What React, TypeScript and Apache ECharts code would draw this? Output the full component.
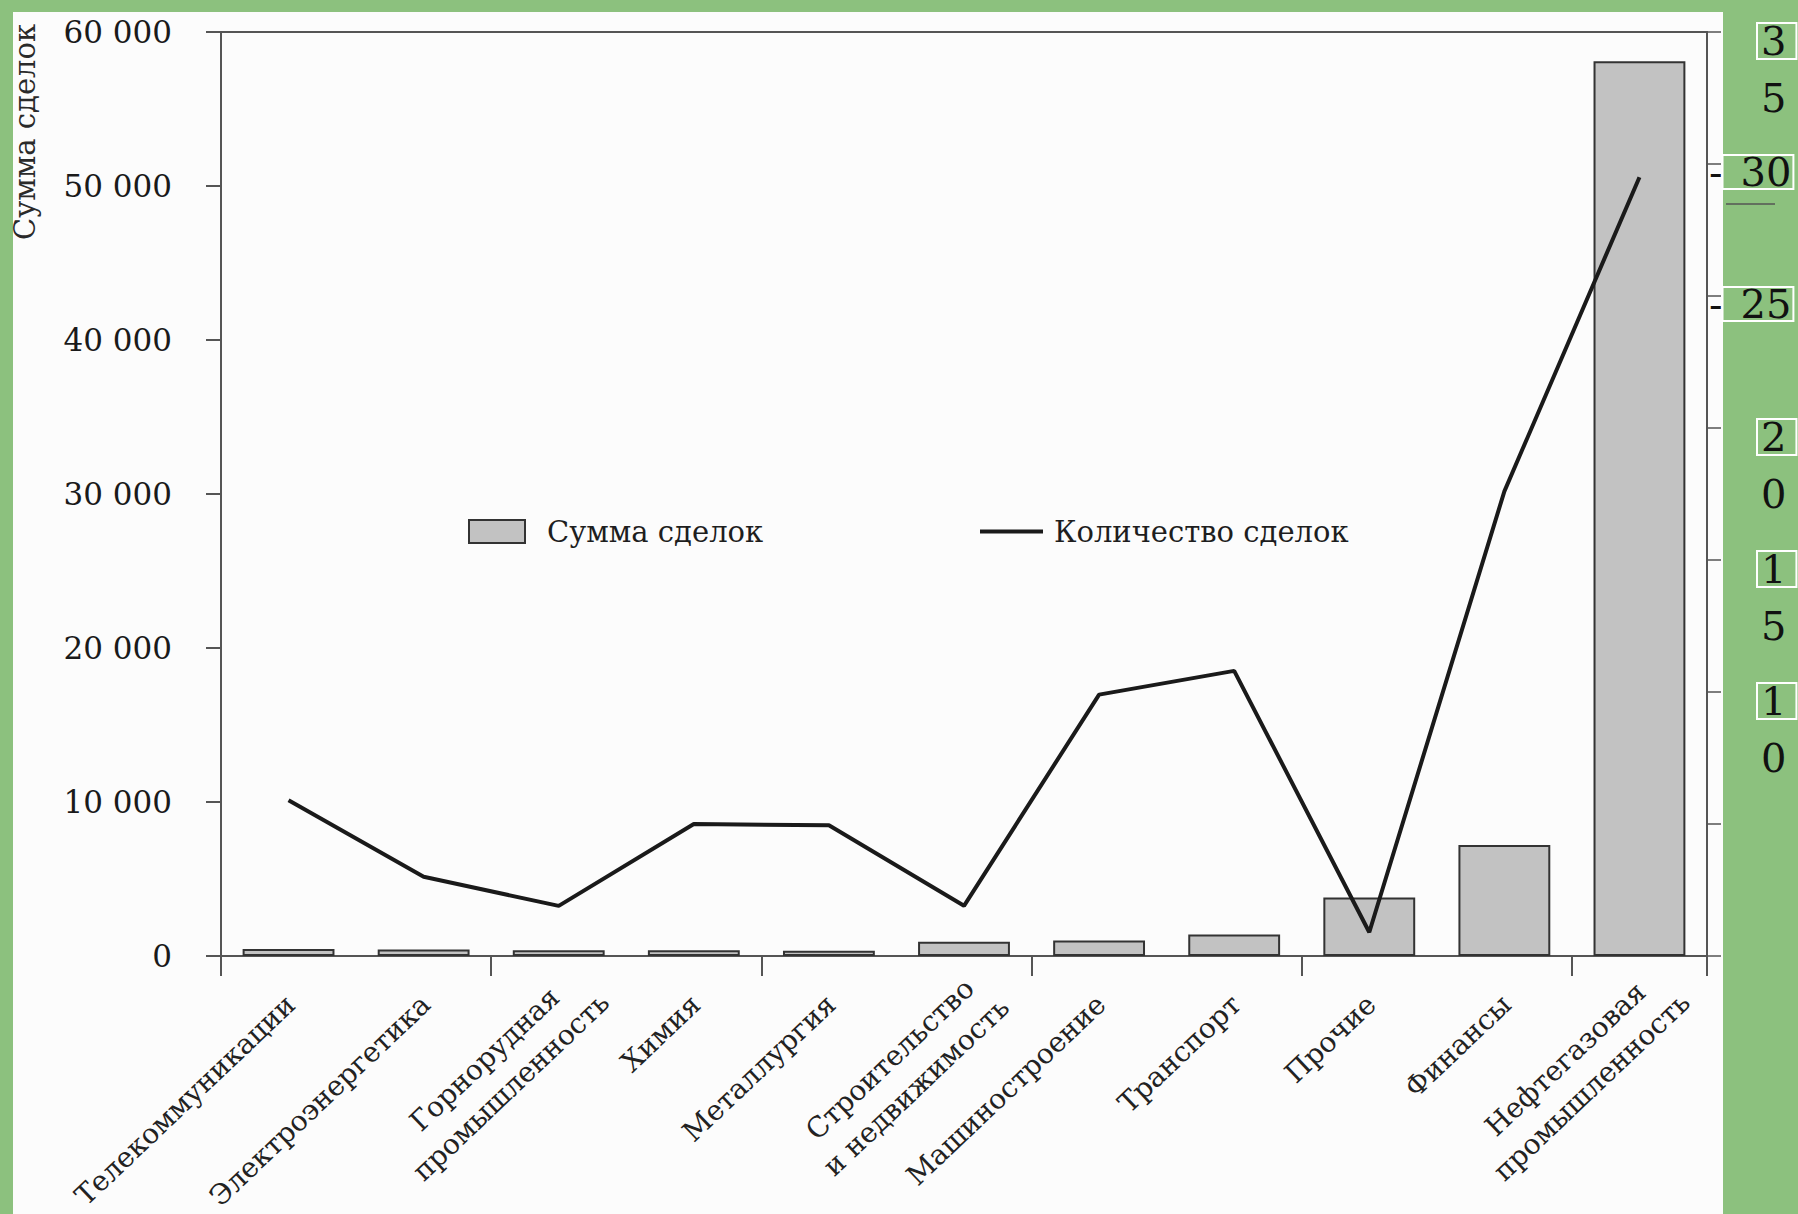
import React, { useEffect, useRef } from "react";
import * as echarts from "echarts";

// ---- data ----
const categories = [
  "Телекоммуникации",
  "Электроэнергетика",
  "Горнорудная\nпромышленность",
  "Химия",
  "Металлургия",
  "Строительство\nи недвижимость",
  "Машиностроение",
  "Транспорт",
  "Прочие",
  "Финансы",
  "Нефтегазовая\nпромышленность",
];
const dealSum = [450, 430, 380, 380, 340, 930, 1000, 1400, 3800, 7200, 58100];
const dealCount = [5.9, 3.0, 1.9, 5.0, 4.95, 1.9, 9.9, 10.8, 0.9, 17.6, 29.5];

const sumTicks = [0, 10000, 20000, 30000, 40000, 50000, 60000];
const sumTickLabels = ["0", "10 000", "20 000", "30 000", "40 000", "50 000", "60 000"];
const countTicks = [0, 5, 10, 15, 20, 25, 30, 35];
const countTickLabels = ["", "", "1\n0", "1\n5", "2\n0", "- 25", "- 30", "3\n5"];

const seriesNames = ["Сумма сделок", "Количество сделок"];
const sumAxisName = "Сумма сделок";

const FONT = "'DejaVu Serif', 'Liberation Serif', serif";

export default function App() {
  const ref = useRef<HTMLDivElement>(null);

  useEffect(() => {
    if (!ref.current) return;
    const chart = echarts.init(ref.current, null, { renderer: "svg" });

    const option: any = {
      animation: false,
      backgroundColor: "transparent",
      grid: {
        left: 221,
        right: 91,
        top: 32,
        bottom: 258,
        containLabel: false,
        outerBoundsMode: "none",
        show: true,
        borderColor: "#555",
        borderWidth: 2,
        backgroundColor: "transparent",
      },
      legend: [
        {
          left: 463,
          top: 512,
          itemWidth: 56,
          itemHeight: 23,
          selectedMode: false,
          data: [
            {
              name: seriesNames[0],
              icon: "rect",
              itemStyle: { color: "#c2c2c2", borderColor: "#333", borderWidth: 2 },
            },
          ],
          textStyle: { fontFamily: FONT, fontSize: 29, color: "#1e1e1e", padding: [0, 0, 0, 17] },
        },
        {
          left: 975,
          top: 512,
          itemWidth: 63,
          itemHeight: 4,
          selectedMode: false,
          data: [
            {
              name: seriesNames[1],
              icon: "rect",
              itemStyle: { color: "#1a1a1a", borderWidth: 0 },
            },
          ],
          textStyle: { fontFamily: FONT, fontSize: 29, color: "#1e1e1e", padding: [0, 0, 0, 6] },
        },
      ],
      xAxis: {
        type: "category",
        data: categories,
        boundaryGap: true,
        axisLine: { lineStyle: { color: "#555", width: 2 } },
        axisTick: { show: true, length: 20, lineStyle: { color: "#555", width: 2 } },
        axisLabel: { show: false },
        splitLine: { show: false },
      },
      yAxis: [
        {
          type: "value",
          position: "left",
          min: sumTicks[0],
          max: sumTicks[sumTicks.length - 1],
          interval: sumTicks[1] - sumTicks[0],
          axisLine: { show: true, lineStyle: { color: "#555", width: 2 } },
          axisTick: { show: true, length: 15, lineStyle: { color: "#555", width: 2 } },
          splitLine: { show: false },
          axisLabel: {
            margin: 49,
            fontFamily: FONT,
            fontSize: 31,
            color: "#1a1a1a",
            formatter: (v: number) => {
              const i = sumTicks.indexOf(v);
              return i >= 0 ? sumTickLabels[i] : "";
            },
          },
        },
        {
          type: "value",
          position: "right",
          min: countTicks[0],
          max: countTicks[countTicks.length - 1],
          interval: countTicks[1] - countTicks[0],
          axisLine: { show: true, lineStyle: { color: "#555", width: 2 } },
          axisTick: { show: true, length: 14, lineStyle: { color: "#555", width: 1.5 } },
          splitLine: { show: false },
          axisLabel: {
            margin: 2,
            align: "left",
            fontFamily: FONT,
            fontSize: 40,
            color: "#111",
            formatter: (v: number) => {
              const i = countTicks.indexOf(v);
              const lab = i >= 0 ? countTickLabels[i] : "";
              if (!lab) return "";
              if (lab.indexOf("\n") >= 0) {
                const [a, b] = lab.split("\n");
                return `{g| }\n{s| }{b|${a}}\n{s| }{n|${b}}`;
              }
              const t = lab.replace("- ", "");
              return `{h| }\n{d|-}{c|${t}}`;
            },
            rich: {
              g: { fontSize: 8, lineHeight: 75 },
              h: { fontSize: 8, lineHeight: 16 },
              s: { fontSize: 8, width: 48, lineHeight: 57 },
              b: {
                fontFamily: FONT,
                fontSize: 40,
                color: "#111",
                lineHeight: 57,
                height: 36,
                padding: [0, 10, 0, 4],
                borderColor: "#ffffff",
                borderWidth: 2,
              },
              n: {
                fontFamily: FONT,
                fontSize: 40,
                color: "#111",
                lineHeight: 57,
                padding: [0, 10, 0, 4],
              },
              d: { fontFamily: FONT, fontSize: 40, color: "#111", lineHeight: 44 },
              c: {
                fontFamily: FONT,
                fontSize: 40,
                color: "#111",
                lineHeight: 44,
                height: 34,
                padding: [0, 2, 0, 18],
                borderColor: "#ffffff",
                borderWidth: 2,
              },
            },
          },
        },
      ],
      series: [
        {
          name: seriesNames[0],
          type: "bar",
          yAxisIndex: 0,
          data: dealSum,
          barWidth: "68%",
          itemStyle: { color: "#c2c2c2", borderColor: "#333", borderWidth: 2 },
        },
        {
          name: seriesNames[1],
          type: "line",
          yAxisIndex: 1,
          data: dealCount,
          symbol: "none",
          itemStyle: { color: "#1a1a1a" },
          lineStyle: { color: "#1a1a1a", width: 4 },
          z: 5,
        },
      ],
    };

    chart.setOption(option);

    // category labels, positioned from the axis scale
    const y0 = chart.convertToPixel({ yAxisIndex: 0 }, 0) as number;
    const rot = (43.5 * Math.PI) / 180;
    const labels: any[] = categories.map((c, i) => {
      const px = chart.convertToPixel({ xAxisIndex: 0 }, i) as number;
      const multi = c.indexOf("\n") >= 0;
      return {
        type: "text",
        x: multi ? px - 61 : px + 2,
        y: multi ? y0 + 117 : y0 + 44,
        rotation: rot,
        silent: true,
        style: {
          text: c,
          fontFamily: FONT,
          fontSize: 28,
          lineHeight: 38,
          fill: "#222",
          align: multi ? "center" : "right",
          verticalAlign: "middle",
        },
      };
    });
    const y30 = chart.convertToPixel({ yAxisIndex: 1 }, 30) as number;
    chart.setOption({
      graphic: [
        ...labels,
        {
          type: "text",
          x: 25,
          y: 132,
          rotation: Math.PI / 2,
          silent: true,
          style: {
            text: sumAxisName,
            fontFamily: FONT,
            fontSize: 29,
            fill: "#2a2a2a",
            align: "center",
            verticalAlign: "middle",
          },
        },
        {
          type: "line",
          silent: true,
          shape: { x1: 1726, y1: y30 + 40, x2: 1775, y2: y30 + 40 },
          style: { stroke: "#555", lineWidth: 1.5 },
        },
      ],
    });

    return () => chart.dispose();
  }, []);

  return (
    <div
      style={{
        position: "fixed",
        left: 0,
        top: 0,
        width: 1798,
        height: 1214,
        background: "#8cc17e",
        overflow: "hidden",
      }}
    >
      <div
        style={{
          position: "absolute",
          left: 13,
          top: 12,
          width: 1710,
          height: 1202,
          background: "#fcfcfc",
        }}
      />
      <div ref={ref} style={{ position: "absolute", left: 0, top: 0, width: 1798, height: 1214 }} />
    </div>
  );
}
